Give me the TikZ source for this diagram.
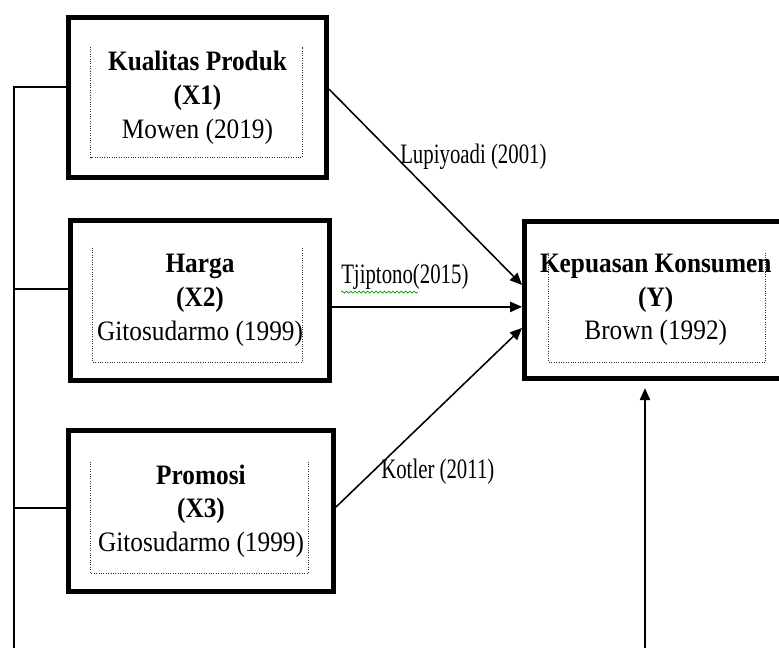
\documentclass[tikz,border=0pt]{standalone}
\usepackage{fontspec}
\setmainfont{Liberation Serif}
\newfontfamily\kotakfont[FakeStretch=0.9]{Liberation Serif}
\newfontfamily\sempit[FakeStretch=0.74]{Liberation Serif}
\usetikzlibrary{arrows.meta}
\usetikzlibrary{decorations.pathmorphing}
\tikzset{
  kotak/.style={draw, line width=3.5pt, minimum width=#1, minimum height=4cm, inner sep=0pt, align=center, font=\kotakfont\fontsize{20}{24}\selectfont},
  kotak/.default=6.45cm,
  bingkai/.style={inner sep=0pt, minimum width=#1, minimum height=2.75cm},
  bingkai/.default=5.3cm,
  titik/.style={densely dotted, line width=0.7pt, black!80},
  garis/.style={line width=1.1pt},
  panah/.style={-{Triangle[length=0.3cm,width=0.26cm]}, line width=1.1pt},
  ket/.style={anchor=west, inner sep=0pt, font=\sempit\fontsize{20}{22}\selectfont},
}

\begin{document}
\begin{tikzpicture}[x=0.025cm, y=-0.025cm]
  \useasboundingbox (0,0) rectangle (779,648);
  % kualitas produk
  \node[bingkai=5.275cm] (x1b) at (196.5,102) {};
  \node[kotak=6.45cm] (x1) at (197.5,97.5) {\textbf{Kualitas Produk}\\\textbf{(X1)}\\Mowen (2019)};
  % harga
  \node[bingkai=5.225cm, minimum height=2.85cm] (x2b) at (197.5,305) {};
  \node[kotak=6.475cm] (x2) at (200,300.5) {\textbf{Harga}\\\textbf{(X2)}\\Gitosudarmo (1999)};
  % promosi
  \node[bingkai=5.425cm, minimum height=2.775cm] (x3b) at (199.5,517.5) {};
  \node[kotak=6.625cm, minimum height=4.025cm] (x3) at (201,511) {\textbf{Promosi}\\\textbf{(X3)}\\Gitosudarmo (1999)};
  % kepuasan konsumen
  \node[bingkai=5.4cm, minimum height=2.725cm] (ykb) at (657,307.5) {};
  \node[kotak=6.5625cm, minimum height=3.925cm] (yk) at (655.75,300) {\textbf{Kepuasan Konsumen}\\\textbf{(Y)}\\Brown (1992)};
  % garis titik di dalam kotak
  \foreach \n in {x1b,x2b,x3b,ykb}
    \draw[titik] (\n.north west) -- (\n.south west) -- (\n.south east) -- (\n.north east);
  % panah ke Y
  \draw[panah] ([yshift=0.21cm]x1.east) -- ([yshift=0.375cm]yk.west);
  \draw[panah] ([yshift=-0.16cm]x2.east) -- ([yshift=-0.16cm]x2.east -| yk.west);
  \draw[panah] ([yshift=0.1cm]x3.east) -- ([yshift=-0.7cm]yk.west);
  \node[ket] (lupi) at (400,157) {Lupiyoadi (2001)};
  \node[ket] (tjip) at (341,277) {Tjiptono(2015)};
  \draw[green!60!black, line width=0.5pt, decorate, decoration={snake, amplitude=0.7pt, segment length=3pt}]
    ([yshift=-1.5pt]tjip.south west) -- ++(77,0);
  \node[ket] (kotl) at (381,472) {Kotler (2011)};
  % garis kiri dan panah bawah
  \coordinate (kiri) at (14,660);
  \coordinate (bawah) at (645,660);
  \draw[garis] ([yshift=0.26cm]x1.west) -| (kiri);
  \draw[garis] ([yshift=0.29cm]x2.west) -- ([yshift=0.29cm]x2.west -| kiri);
  \draw[garis] ([yshift=0.08cm]x3.west) -- ([yshift=0.08cm]x3.west -| kiri);
  \draw[panah, shorten >=0.18cm] (bawah) -- (bawah |- yk.south);
\end{tikzpicture}
\end{document}
